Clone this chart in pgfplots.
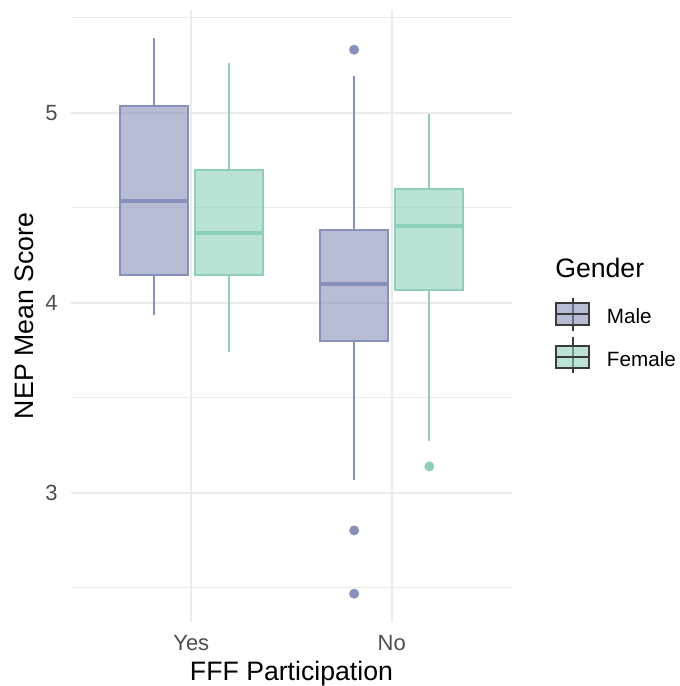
\documentclass[border=0pt]{standalone}
\usepackage{pgfplots}
\pgfplotsset{compat=1.18}
\usepackage{fontspec}
\setmainfont{Liberation Sans}

\definecolor{malel}{HTML}{8690B8}
\definecolor{femalel}{HTML}{8CD0BB}
\definecolor{gridc}{HTML}{EBEBEB}
\definecolor{tickc}{HTML}{4D4D4D}
\definecolor{keyc}{HTML}{3A3A3A}

\begin{document}
\begin{tikzpicture}
\begin{axis}[
  at={(53.25pt,48pt)}, anchor=south west,
  scale only axis, width=330.75pt, height=459pt,
  xmin=0.4, xmax=2.6, ymin=2.321, ymax=5.542,
  xtick={1,2}, xticklabels={Yes,No},
  ytick={3,4,5}, minor ytick={2.5,3.5,4.5,5.5},
  xmajorgrids, ymajorgrids, yminorgrids,
  major grid style={draw=gridc, line width=1.5pt},
  minor grid style={draw=gridc, line width=0.75pt},
  axis line style={draw=none},
  major tick length=0pt, minor tick length=0pt,
  /pgf/number format/assume math mode=true,
  ticklabel style={font=\fontsize{16.5}{19}\selectfont, text=tickc, inner sep=0pt},
  yticklabel style={anchor=east, xshift=-9.75pt},
  xticklabel style={anchor=north, yshift=-9.75pt},
  xlabel={FFF Participation}, ylabel={NEP Mean Score},
  label style={font=\fontsize{20}{24}\selectfont, inner sep=0pt},
  xlabel style={at={(axis description cs:0.5,0)}, anchor=base, yshift=-43.5pt},
  ylabel style={at={(axis description cs:0,0.5)}, anchor=base, yshift=27.75pt},
  male/.style={draw=malel, line width=1.5pt},
  female/.style={draw=femalel, line width=1.5pt},
  mbox/.style={male, fill=malel, fill opacity=0.6, line join=miter},
  fbox/.style={female, fill=femalel, fill opacity=0.6, line join=miter},
  med/.style={line width=3pt},
]
% Yes, Male: whiskers 3.938 / 5.395, box 4.149-5.035, median 4.535
\addplot[male] coordinates {(0.8125,3.938) (0.8125,4.149)};
\addplot[male] coordinates {(0.8125,5.035) (0.8125,5.395)};
\addplot[mbox] coordinates {(0.6425,4.149) (0.9825,4.149) (0.9825,5.035) (0.6425,5.035)} -- cycle;
\addplot[male, med] coordinates {(0.6425,4.535) (0.9825,4.535)};
% Yes, Female: whiskers 3.744 / 5.263, box 4.149-4.702, median 4.368
\addplot[female] coordinates {(1.1875,3.744) (1.1875,4.149)};
\addplot[female] coordinates {(1.1875,4.702) (1.1875,5.263)};
\addplot[fbox] coordinates {(1.0175,4.149) (1.3575,4.149) (1.3575,4.702) (1.0175,4.702)} -- cycle;
\addplot[female, med] coordinates {(1.0175,4.368) (1.3575,4.368)};
% No, Male: whiskers 3.070 / 5.193, box 3.798-4.386, median 4.100
\addplot[male] coordinates {(1.8125,3.070) (1.8125,3.798)};
\addplot[male] coordinates {(1.8125,4.386) (1.8125,5.193)};
\addplot[mbox] coordinates {(1.6425,3.798) (1.9825,3.798) (1.9825,4.386) (1.6425,4.386)} -- cycle;
\addplot[male, med] coordinates {(1.6425,4.100) (1.9825,4.100)};
% No, Female: whiskers 3.272 / 4.996, box 4.070-4.600, median 4.403
\addplot[female] coordinates {(2.1875,3.272) (2.1875,4.070)};
\addplot[female] coordinates {(2.1875,4.600) (2.1875,4.996)};
\addplot[fbox] coordinates {(2.0175,4.070) (2.3575,4.070) (2.3575,4.600) (2.0175,4.600)} -- cycle;
\addplot[female, med] coordinates {(2.0175,4.403) (2.3575,4.403)};
% outliers
\addplot[only marks, mark=*, mark size=3.5pt, mark options={draw=malel, fill=malel}]
  coordinates {(1.8125,5.333) (1.8125,2.803) (1.8125,2.470)};
\addplot[only marks, mark=*, mark size=3.5pt, mark options={draw=femalel, fill=femalel}]
  coordinates {(2.1875,3.140)};
\end{axis}
% legend
\node[anchor=base west, inner sep=0pt, font=\fontsize{20}{24}\selectfont] at (416.25pt,306pt) {Gender};
\draw[keyc, line width=1.5pt] (429.4pt,291pt) -- (429.4pt,266.25pt);
\draw[keyc, line width=1.5pt, fill=malel, fill opacity=0.6] (417pt,270.75pt) rectangle (441.75pt,287.25pt);
\draw[keyc, line width=1.5pt] (417pt,279pt) -- (441.75pt,279pt);
\draw[keyc, line width=1.5pt] (429.4pt,261.75pt) -- (429.4pt,234.75pt);
\draw[keyc, line width=1.5pt, fill=femalel, fill opacity=0.6] (417pt,238.5pt) rectangle (441.75pt,255pt);
\draw[keyc, line width=1.5pt] (417pt,246.75pt) -- (441.75pt,246.75pt);
\node[anchor=west, inner sep=0pt, font=\fontsize{15.5}{19}\selectfont] at (455pt,277.5pt) {Male};
\node[anchor=west, inner sep=0pt, font=\fontsize{15.5}{19}\selectfont] at (455pt,245.25pt) {Female};
\pgfresetboundingbox
\path (0pt,0pt) rectangle (509.25pt,514.5pt);
\end{tikzpicture}
\end{document}
